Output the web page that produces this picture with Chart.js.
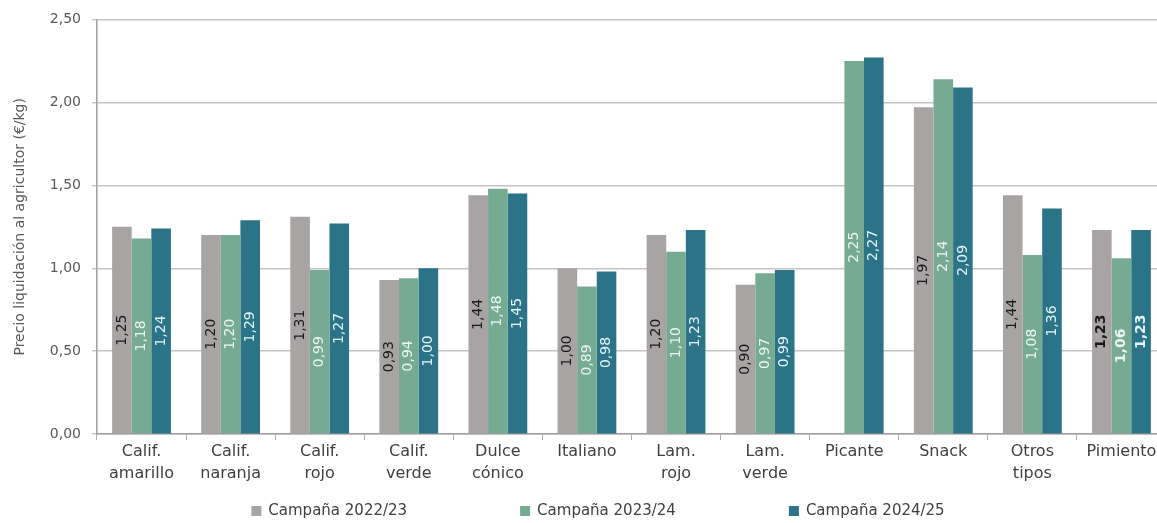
<!DOCTYPE html>
<html>
<head>
<meta charset="utf-8">
<script src="https://cdn.jsdelivr.net/npm/chart.js@4/dist/chart.umd.min.js"></script>
<style>
  html, body { margin: 0; padding: 0; background: #fff; overflow: hidden; }
  #wrap { width: 1166px; height: 523px; }
</style>
</head>
<body>
<div id="wrap"><canvas id="pimientoChart" width="1166" height="523"></canvas></div>
<script>
// categorías y valores (€/kg)
const categorias = [
    ['Calif.', 'amarillo'], ['Calif.', 'naranja'], ['Calif.', 'rojo'], ['Calif.', 'verde'],
    ['Dulce', 'cónico'], 'Italiano', ['Lam.', 'rojo'], ['Lam.', 'verde'],
    'Picante', 'Snack', ['Otros', 'tipos'], 'Pimiento'
];
const campana2223 = [1.25, 1.20, 1.31, 0.93, 1.44, 1.00, 1.20, 0.90, null, 1.97, 1.44, 1.23];
const campana2324 = [1.18, 1.20, 0.99, 0.94, 1.48, 0.89, 1.10, 0.97, 2.25, 2.14, 1.08, 1.06];
const campana2425 = [1.24, 1.29, 1.27, 1.00, 1.45, 0.98, 1.23, 0.99, 2.27, 2.09, 1.36, 1.23];
const nombresSeries = ['Campaña 2022/23', 'Campaña 2023/24', 'Campaña 2024/25'];

const coloresBarras = ['#a8a4a4', '#76aa93', '#2b7488'];
const coloresEtiquetas = ['#1a1a1a', '#eaf7ef', '#e3f4f8'];
const FUENTE = "'DejaVu Sans', sans-serif";

const fmt = v => v.toFixed(2).replace('.', ',');

// etiquetas verticales dentro de cada barra
const etiquetasBarras = {
    id: 'etiquetasBarras',
    afterDatasetsDraw(chart) {
        const ctx = chart.ctx;
        chart.data.datasets.forEach((ds, i) => {
            const meta = chart.getDatasetMeta(i);
            meta.data.forEach((bar, j) => {
                const v = ds.data[j];
                if (v == null) return;
                const p = bar.getProps(['x', 'y', 'base'], true);
                const cy = (p.y + p.base) / 2;
                const negrita = j === categorias.length - 1;
                ctx.save();
                ctx.translate(p.x, cy);
                ctx.rotate(-Math.PI / 2);
                ctx.font = (negrita ? 'bold ' : '') + '14px ' + FUENTE;
                ctx.fillStyle = coloresEtiquetas[i];
                ctx.textAlign = 'center';
                ctx.textBaseline = 'middle';
                ctx.fillText(fmt(v), 0, 0);
                ctx.restore();
            });
        });
    }
};

// leyenda dibujada a mano (la de Chart.js mete demasiado alto con padding grande)
const leyendaAbajo = {
    id: 'leyendaAbajo',
    afterDraw(chart) {
        const ctx = chart.ctx;
        const caja = 10, hueco = 7, separacion = 113;
        ctx.save();
        ctx.font = '15px ' + FUENTE;
        ctx.textBaseline = 'middle';
        const anchos = nombresSeries.map(t => ctx.measureText(t).width);
        const total = anchos.reduce((a, w) => a + caja + hueco + w, 0) + separacion * (anchos.length - 1);
        let x = chart.width / 2 + 15 - total / 2;
        const y = 511;
        nombresSeries.forEach((t, i) => {
            ctx.fillStyle = coloresBarras[i];
            ctx.fillRect(x, y - caja / 2, caja, caja);
            ctx.fillStyle = '#404040';
            ctx.fillText(t, x + caja + hueco, y);
            x += caja + hueco + anchos[i] + separacion;
        });
        ctx.restore();
    }
};

const ctx = document.getElementById('pimientoChart');
new Chart(ctx, {
    type: 'bar',
    data: {
        labels: categorias,
        datasets: [campana2223, campana2324, campana2425].map((d, i) => ({
            label: nombresSeries[i],
            data: d,
            backgroundColor: coloresBarras[i],
            borderWidth: 0,
            barPercentage: 1.0,
            categoryPercentage: 0.66
        }))
    },
    options: {
        responsive: false,
        animation: false,
        layout: { padding: { top: 8, left: 12, right: 0, bottom: 38 } },
        plugins: {
            tooltip: { enabled: false },
            legend: { display: false }
        },
        scales: {
            x: {
                grid: {
                    display: true,
                    drawOnChartArea: false,
                    drawTicks: true,
                    tickLength: 6,
                    color: '#b0b0b0'
                },
                border: { color: '#a0a0a0', width: 1.5 },
                ticks: {
                    font: { family: FUENTE, size: 16, lineHeight: 1.4 },
                    color: '#404040',
                    padding: 0,
                    maxRotation: 0,
                    autoSkip: false
                }
            },
            y: {
                min: 0,
                max: 2.5,
                ticks: {
                    stepSize: 0.5,
                    callback: v => fmt(v),
                    font: { family: FUENTE, size: 14 },
                    color: '#595959',
                    padding: 11
                },
                grid: {
                    color: '#c4c4c4',
                    lineWidth: 1.5,
                    drawTicks: true,
                    tickLength: 5
                },
                border: { color: '#a0a0a0', width: 1.5 },
                title: {
                    display: true,
                    text: 'Precio liquidación al agricultor (€/kg)',
                    font: { family: FUENTE, size: 14 },
                    color: '#595959',
                    padding: { top: 0, bottom: 10 }
                }
            }
        }
    },
    plugins: [etiquetasBarras, leyendaAbajo]
});
</script>
</body>
</html>
